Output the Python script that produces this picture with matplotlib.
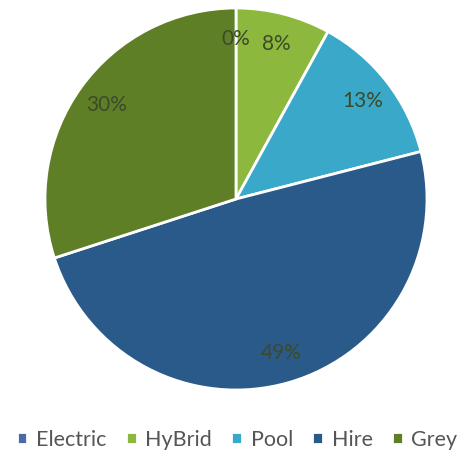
import matplotlib
matplotlib.use("Agg")
import matplotlib.pyplot as plt

categories = ["Electric", "HyBrid", "Pool", "Hire", "Grey"]
values = [0, 8, 13, 49, 30]
colors = ["#4a6aa8", "#8db83e", "#3aa9c9", "#2a5a8a", "#5f7f26"]

plt.rcParams['font.family'] = ['Lato', 'DejaVu Sans']

fig = plt.figure(figsize=(4.65, 4.58), dpi=100)
ax = fig.add_axes([45/465, 1 - 390/458, 382/465, 382/458])

wedges, texts, autotexts = ax.pie(
    values, colors=colors, startangle=90, counterclock=False,
    autopct=lambda p: f"{p:.0f}%", pctdistance=0.84,
    wedgeprops=dict(edgecolor="white", linewidth=2),
    textprops=dict(color="#3c4a2a", fontsize=15))
ax.set_aspect("equal")
ax.set_xlim(-1.0, 1.0)
ax.set_ylim(-1.0, 1.0)

leg = fig.legend(wedges, categories, loc="center", bbox_to_anchor=(0.51, 1 - 440/458),
                 ncol=5, frameon=False, fontsize=15.5, handlelength=0.5, handleheight=0.5,
                 handletextpad=0.4, columnspacing=0.9, labelcolor="#555555")

fig.savefig("out.png", dpi=100)
